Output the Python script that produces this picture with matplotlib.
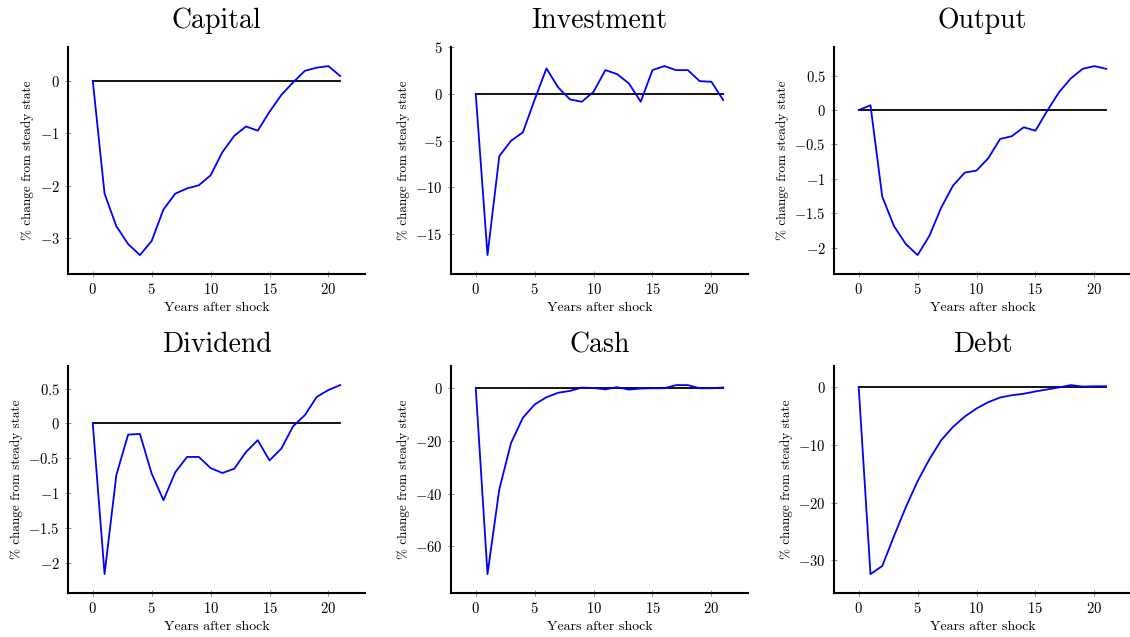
import numpy as np
import matplotlib
matplotlib.use("Agg")
import matplotlib.pyplot as plt
from matplotlib.ticker import MultipleLocator, FuncFormatter

plt.rcParams['font.family'] = 'serif'
plt.rcParams['font.serif'] = ['cmr10']
plt.rcParams['mathtext.fontset'] = 'cm'
plt.rcParams['axes.formatter.use_mathtext'] = True

years = np.arange(22)

capital = [0, -2.15, -2.77, -3.11, -3.32, -3.05, -2.45, -2.15, -2.05, -1.99, -1.80,
           -1.36, -1.05, -0.87, -0.95, -0.59, -0.27, -0.03, 0.19, 0.25, 0.28, 0.09]
investment = [0, -17.25, -6.64, -5.0, -4.1, -0.6, 2.75, 0.71, -0.57, -0.82, 0.25,
              2.57, 2.14, 1.14, -0.82, 2.57, 3.0, 2.57, 2.57, 1.39, 1.32, -0.64]
output = [0, 0.07, -1.26, -1.69, -1.95, -2.11, -1.83, -1.42, -1.10, -0.91, -0.88,
          -0.70, -0.42, -0.38, -0.25, -0.30, -0.01, 0.26, 0.46, 0.60, 0.64, 0.60]
dividend = [0, -2.16, -0.74, -0.16, -0.15, -0.72, -1.10, -0.70, -0.48, -0.48, -0.64,
            -0.71, -0.65, -0.41, -0.24, -0.53, -0.36, -0.04, 0.12, 0.38, 0.48, 0.55]
cash = [0, -70.5, -38.3, -20.7, -11.2, -6.15, -3.4, -1.7, -1.0, 0.25, 0.1,
        -0.4, 0.4, -0.5, -0.1, 0, 0, 1.2, 1.2, 0, 0, 0.3]
debt = [0, -32.4, -31.0, -25.8, -20.8, -16.3, -12.5, -9.2, -6.9, -5.1, -3.7,
        -2.6, -1.8, -1.4, -1.15, -0.75, -0.4, -0.05, 0.35, 0.1, 0.15, 0.15]

titles = ["Capital", "Investment", "Output", "Dividend", "Cash", "Debt"]
series = [capital, investment, output, dividend, cash, debt]
ystep = [1, 5, 0.5, 0.5, 20, 10]

lefts = [0.0602, 0.3991, 0.738]
bottoms = [0.5699, 0.0691]
pads = [14, 10]
w, h = 0.2628, 0.356


def fmt(v, pos):
    return r"$\mathdefault{%g}$" % round(v, 6)


fig = plt.figure(figsize=(11.3, 6.37), dpi=100)

for i in range(6):
    ax = fig.add_axes([lefts[i % 3], bottoms[i // 3], w, h])
    ax.plot([years[0], years[-1]], [0, 0], color='black', lw=1.3)
    ax.plot(years, series[i], color='#0000ff', lw=1.3)
    ax.margins(x=0.1, y=0.1)
    ax.set_title(titles[i], fontsize=20, pad=pads[i // 3])
    ax.set_xlabel("Years after shock", fontsize=10, labelpad=3)
    ax.set_ylabel("% change from steady state", fontsize=9.5, labelpad=4)
    ax.xaxis.set_major_locator(MultipleLocator(5))
    ax.yaxis.set_major_locator(MultipleLocator(ystep[i]))
    ax.yaxis.set_major_formatter(FuncFormatter(fmt))
    ax.xaxis.set_major_formatter(FuncFormatter(fmt))
    ax.spines['top'].set_visible(False)
    ax.spines['right'].set_visible(False)
    ax.spines['left'].set_linewidth(1.5)
    ax.spines['bottom'].set_linewidth(1.5)
    ax.tick_params(direction='inout', length=4, width=0.6, color='gray',
                   labelsize=10.5, pad=4)

fig.savefig("out.png", dpi=100)
